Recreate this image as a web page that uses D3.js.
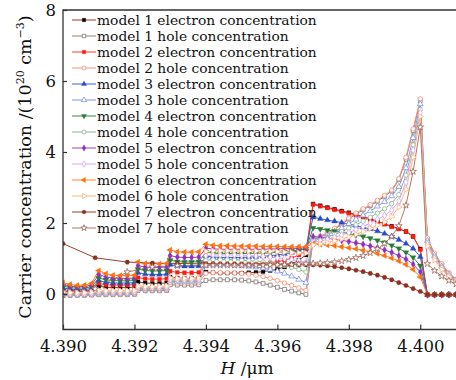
<!DOCTYPE html>
<html>
<head>
<meta charset="utf-8">
<script src="https://cdn.jsdelivr.net/npm/d3@7"></script>
<style>
html, body { margin: 0; padding: 0; background: #fff; }
svg { display: block; }
svg text { font-family: "DejaVu Serif", serif; }
</style>
</head>
<body>
<svg id="chart" width="456" height="380"></svg>
<script>
/* Mesh positions (um) used by models 1-6: seven layers */
const xLayered = [
    4.3900, 4.3902, 4.3904, 4.3906, 4.3908,
    4.3910, 4.3912, 4.3914, 4.3916, 4.3918, 4.3920,
    4.3921, 4.3923, 4.3925, 4.3927, 4.3929,
    4.3930, 4.3932, 4.3934, 4.3936, 4.3938,
    4.3940, 4.3942, 4.3944, 4.3946, 4.3948, 4.3950, 4.3952, 4.3954, 4.3956, 4.3958, 4.3960, 4.3962, 4.3964, 4.3966, 4.3968,
    4.3970, 4.3972, 4.3974, 4.3976, 4.3978, 4.3980, 4.3982, 4.3984, 4.3986, 4.3988, 4.3990, 4.3992, 4.3994, 4.3996, 4.3998, 4.4000,
    4.4002, 4.4004, 4.4006, 4.4008, 4.4010
];
/* Model 7 uses a coarser mesh on the left */
const xModel7 = [
    4.3900, 4.3909, 4.3918, 4.3925, 4.3932, 4.3939,
    4.3940, 4.3942, 4.3944, 4.3946, 4.3948, 4.3950, 4.3952, 4.3954, 4.3956, 4.3958, 4.3960, 4.3962, 4.3964, 4.3966, 4.3968,
    4.3970, 4.3972, 4.3974, 4.3976, 4.3978, 4.3980, 4.3982, 4.3984, 4.3986, 4.3988, 4.3990, 4.3992, 4.3994, 4.3996, 4.3998, 4.4000,
    4.4002, 4.4004, 4.4006, 4.4008, 4.4010
];

/* Carrier concentrations, 10^20 cm^-3 */
const m1Electron = [
    0.08, 0.06, 0.05, 0.05, 0.07,
    0.22, 0.19, 0.18, 0.18, 0.18, 0.19,
    0.34, 0.31, 0.30, 0.30, 0.31,
    0.48, 0.45, 0.44, 0.44, 0.45,
    0.62, 0.60, 0.59, 0.59, 0.59, 0.59, 0.60, 0.61, 0.63, 0.66, 0.70, 0.76, 0.84, 0.95, 1.10,
    2.54, 2.49, 2.44, 2.39, 2.34, 2.29, 2.24, 2.18, 2.12, 2.05, 1.98, 1.91, 1.84, 1.76, 1.62, 1.27,
    -0.02, -0.02, -0.02, -0.02, -0.02
];
const m1Hole = [
    -0.03, -0.04, -0.04, -0.04, -0.03,
    -0.02, -0.02, -0.02, -0.02, -0.02, -0.01,
    0.10, 0.09, 0.09, 0.09, 0.10,
    0.26, 0.25, 0.25, 0.25, 0.26,
    0.38, 0.40, 0.40, 0.40, 0.40, 0.39, 0.37, 0.34, 0.30, 0.25, 0.19, 0.13, 0.08, 0.03, -0.01,
    1.52, 1.60, 1.70, 1.82, 1.96, 2.11, 2.25, 2.37, 2.49, 2.61, 2.75, 2.90, 3.22, 3.80, 4.60, 5.45,
    1.55, 1.12, 0.82, 0.58, 0.40
];
const m2Electron = [
    0.12, 0.10, 0.09, 0.09, 0.11,
    0.30, 0.26, 0.25, 0.25, 0.25, 0.26,
    0.46, 0.43, 0.42, 0.42, 0.43,
    0.64, 0.61, 0.60, 0.60, 0.61,
    0.86, 0.84, 0.83, 0.83, 0.83, 0.83, 0.84, 0.85, 0.86, 0.88, 0.91, 0.95, 1.01, 1.10, 1.22,
    2.52, 2.47, 2.42, 2.37, 2.32, 2.27, 2.22, 2.16, 2.10, 2.03, 1.96, 1.89, 1.83, 1.76, 1.62, 1.25,
    -0.02, -0.02, -0.02, -0.02, -0.02
];
const m2Hole = [
    -0.01, -0.02, -0.02, -0.02, -0.01,
    0.01, 0.00, 0.00, 0.00, 0.00, 0.01,
    0.13, 0.12, 0.12, 0.12, 0.13,
    0.32, 0.31, 0.31, 0.31, 0.32,
    0.58, 0.60, 0.60, 0.60, 0.59, 0.58, 0.56, 0.53, 0.49, 0.44, 0.38, 0.31, 0.24, 0.17, 0.10,
    1.55, 1.63, 1.73, 1.85, 1.99, 2.14, 2.28, 2.40, 2.52, 2.64, 2.78, 2.93, 3.25, 3.85, 4.65, 5.50,
    1.58, 1.15, 0.85, 0.60, 0.42
];
const m3Electron = [
    0.17, 0.14, 0.12, 0.13, 0.15,
    0.38, 0.33, 0.31, 0.31, 0.31, 0.32,
    0.60, 0.56, 0.55, 0.55, 0.56,
    0.83, 0.79, 0.78, 0.78, 0.79,
    1.07, 1.04, 1.03, 1.03, 1.03, 1.03, 1.04, 1.05, 1.06, 1.08, 1.10, 1.13, 1.17, 1.22, 1.28,
    2.16, 2.12, 2.08, 2.05, 2.01, 1.97, 1.93, 1.88, 1.83, 1.77, 1.70, 1.62, 1.53, 1.42, 1.28, 1.05,
    -0.02, -0.02, -0.02, -0.02, -0.02
];
const m3Hole = [
    0.00, -0.01, -0.01, -0.01, 0.00,
    0.03, 0.02, 0.02, 0.02, 0.02, 0.03,
    0.16, 0.15, 0.15, 0.15, 0.16,
    0.36, 0.35, 0.35, 0.35, 0.36,
    0.80, 0.82, 0.82, 0.82, 0.81, 0.80, 0.78, 0.76, 0.73, 0.69, 0.64, 0.58, 0.50, 0.41, 0.32,
    1.55, 1.61, 1.68, 1.76, 1.86, 1.98, 2.10, 2.22, 2.34, 2.47, 2.60, 2.76, 3.02, 3.55, 4.40, 5.35,
    1.50, 1.08, 0.78, 0.55, 0.38
];
const m4Electron = [
    0.22, 0.18, 0.16, 0.17, 0.20,
    0.45, 0.40, 0.38, 0.37, 0.37, 0.38,
    0.70, 0.66, 0.65, 0.65, 0.66,
    0.95, 0.91, 0.90, 0.90, 0.91,
    1.18, 1.15, 1.14, 1.14, 1.14, 1.14, 1.14, 1.15, 1.15, 1.16, 1.17, 1.19, 1.21, 1.24, 1.27,
    1.86, 1.83, 1.80, 1.77, 1.74, 1.70, 1.66, 1.62, 1.57, 1.51, 1.45, 1.37, 1.28, 1.17, 1.03, 0.80,
    -0.02, -0.02, -0.02, -0.02, -0.02
];
const m4Hole = [
    0.02, 0.01, 0.00, 0.01, 0.02,
    0.05, 0.04, 0.04, 0.04, 0.04, 0.05,
    0.18, 0.17, 0.17, 0.17, 0.18,
    0.39, 0.38, 0.38, 0.38, 0.39,
    0.95, 0.97, 0.97, 0.97, 0.96, 0.95, 0.94, 0.92, 0.90, 0.87, 0.84, 0.80, 0.75, 0.69, 0.62,
    1.50, 1.55, 1.61, 1.68, 1.76, 1.85, 1.95, 2.05, 2.16, 2.28, 2.40, 2.55, 2.80, 3.35, 4.20, 5.20,
    1.45, 1.04, 0.75, 0.52, 0.36
];
const m5Electron = [
    0.27, 0.22, 0.20, 0.21, 0.25,
    0.55, 0.48, 0.45, 0.44, 0.44, 0.45,
    0.80, 0.76, 0.75, 0.75, 0.76,
    1.08, 1.04, 1.03, 1.03, 1.04,
    1.29, 1.27, 1.26, 1.26, 1.26, 1.26, 1.26, 1.26, 1.26, 1.27, 1.27, 1.28, 1.28, 1.29, 1.30,
    1.62, 1.60, 1.57, 1.54, 1.51, 1.48, 1.44, 1.40, 1.35, 1.30, 1.24, 1.17, 1.08, 0.98, 0.84, 0.62,
    -0.02, -0.02, -0.02, -0.02, -0.02
];
const m5Hole = [
    0.03, 0.02, 0.01, 0.02, 0.03,
    0.07, 0.06, 0.06, 0.06, 0.06, 0.07,
    0.20, 0.19, 0.19, 0.19, 0.20,
    0.42, 0.41, 0.41, 0.41, 0.42,
    1.08, 1.10, 1.10, 1.10, 1.10, 1.09, 1.08, 1.07, 1.06, 1.04, 1.02, 1.00, 0.97, 0.94, 0.90,
    1.45, 1.49, 1.54, 1.60, 1.66, 1.73, 1.81, 1.90, 2.00, 2.10, 2.21, 2.36, 2.62, 3.15, 4.05, 5.10,
    1.40, 1.00, 0.72, 0.50, 0.34
];
const m6Electron = [
    0.32, 0.27, 0.24, 0.25, 0.30,
    0.66, 0.57, 0.53, 0.52, 0.52, 0.53,
    0.90, 0.86, 0.85, 0.85, 0.86,
    1.24, 1.19, 1.18, 1.18, 1.19,
    1.40, 1.37, 1.36, 1.36, 1.35, 1.35, 1.35, 1.35, 1.34, 1.34, 1.34, 1.33, 1.33, 1.33, 1.33,
    1.42, 1.40, 1.38, 1.36, 1.33, 1.30, 1.27, 1.23, 1.19, 1.14, 1.08, 1.01, 0.93, 0.83, 0.69, 0.48,
    -0.02, -0.02, -0.02, -0.02, -0.02
];
const m6Hole = [
    0.05, 0.04, 0.03, 0.04, 0.05,
    0.10, 0.09, 0.09, 0.09, 0.09, 0.10,
    0.22, 0.21, 0.21, 0.21, 0.22,
    0.45, 0.44, 0.44, 0.44, 0.45,
    1.20, 1.22, 1.22, 1.22, 1.22, 1.22, 1.21, 1.21, 1.20, 1.20, 1.19, 1.18, 1.17, 1.16, 1.15,
    1.38, 1.41, 1.45, 1.50, 1.55, 1.61, 1.68, 1.76, 1.85, 1.94, 2.03, 2.18, 2.45, 2.95, 3.85, 5.00,
    1.35, 0.96, 0.69, 0.48, 0.32
];
const m7Electron = [
    1.42, 1.02, 0.90, 0.87, 0.86, 0.85,
    0.85, 0.85, 0.84, 0.84, 0.84, 0.84, 0.83, 0.83, 0.83, 0.83, 0.83, 0.83, 0.83, 0.82, 0.82,
    0.82, 0.81, 0.79, 0.77, 0.74, 0.71, 0.67, 0.63, 0.58, 0.53, 0.47, 0.40, 0.32, 0.24, 0.15, 0.07,
    -0.02, -0.02, -0.02, -0.02, -0.02
];
const m7Hole = [
    -0.03, 0.15, 0.62, 0.76, 0.80, 0.81,
    0.81, 0.81, 0.81, 0.81, 0.81, 0.81, 0.81, 0.81, 0.81, 0.82, 0.82, 0.83, 0.83, 0.84, 0.85,
    0.86, 0.87, 0.88, 0.90, 0.93, 0.97, 1.02, 1.08, 1.16, 1.27, 1.42, 1.62, 1.92, 2.50, 3.45, 4.70,
    0.85, 0.66, 0.50, 0.38, 0.28
];

const xTicks = [4.390, 4.392, 4.394, 4.396, 4.398, 4.400];
const yTicks = [0, 2, 4, 6, 8];

/* Hexagon marker for model 7 electrons */
const symbolHexagon = {
    draw(context, size) {
        const r = Math.sqrt(size * 2 / (3 * Math.sqrt(3)));
        for (let i = 0; i < 6; i++) {
            const a = Math.PI / 3 * i;
            const px = r * Math.cos(a), py = r * Math.sin(a);
            if (i === 0) context.moveTo(px, py); else context.lineTo(px, py);
        }
        context.closePath();
    }
};

const series = [
    {label: 'model 1 electron concentration', xs: xLayered, ys: m1Electron, line: '#9a3a2c', mark: '#000', shape: d3.symbolSquare, rot: 0, open: false},
    {label: 'model 1 hole concentration', xs: xLayered, ys: m1Hole, line: '#a87a6a', mark: '#777', shape: d3.symbolSquare, rot: 0, open: true},
    {label: 'model 2 electron concentration', xs: xLayered, ys: m2Electron, line: '#ff3a28', mark: '#ff1a10', shape: d3.symbolSquare, rot: 0, open: false},
    {label: 'model 2 hole concentration', xs: xLayered, ys: m2Hole, line: '#ff8c72', mark: '#ff8c72', shape: d3.symbolCircle, rot: 0, open: true},
    {label: 'model 3 electron concentration', xs: xLayered, ys: m3Electron, line: '#3f5fd0', mark: '#2a4ac8', shape: d3.symbolTriangle, rot: 0, open: false},
    {label: 'model 3 hole concentration', xs: xLayered, ys: m3Hole, line: '#7f96e6', mark: '#7f96e6', shape: d3.symbolTriangle, rot: 0, open: true},
    {label: 'model 4 electron concentration', xs: xLayered, ys: m4Electron, line: '#3a8a46', mark: '#2a7a36', shape: d3.symbolTriangle, rot: 180, open: false},
    {label: 'model 4 hole concentration', xs: xLayered, ys: m4Hole, line: '#8cb88c', mark: '#8cb88c', shape: d3.symbolCircle, rot: 0, open: true},
    {label: 'model 5 electron concentration', xs: xLayered, ys: m5Electron, line: '#a040c8', mark: '#9030c0', shape: d3.symbolDiamond, rot: 0, open: false},
    {label: 'model 5 hole concentration', xs: xLayered, ys: m5Hole, line: '#d8a6f0', mark: '#d8a6f0', shape: d3.symbolDiamond, rot: 0, open: true},
    {label: 'model 6 electron concentration', xs: xLayered, ys: m6Electron, line: '#ff8228', mark: '#ff7010', shape: d3.symbolTriangle, rot: -90, open: false},
    {label: 'model 6 hole concentration', xs: xLayered, ys: m6Hole, line: '#ffb47c', mark: '#ffb47c', shape: d3.symbolTriangle, rot: 90, open: true},
    {label: 'model 7 electron concentration', xs: xModel7, ys: m7Electron, line: '#9a4032', mark: '#8a3020', shape: symbolHexagon, rot: 0, open: false},
    {label: 'model 7 hole concentration', xs: xModel7, ys: m7Hole, line: '#b07a6a', mark: '#a06a5a', shape: d3.symbolStar, rot: 0, open: true}
];

const svg = d3.select('#chart');
const margin = {left: 63, top: 10, right: 456, bottom: 329.5};

const x = d3.scaleLinear().domain([4.390, 4.401]).range([margin.left, margin.right]);
const y = d3.scaleLinear().domain([-1, 8]).range([margin.bottom, margin.top]);

svg.append('clipPath').attr('id', 'plot-clip')
    .append('rect')
    .attr('x', margin.left).attr('y', margin.top)
    .attr('width', margin.right - margin.left).attr('height', margin.bottom - margin.top);

const plot = svg.append('g').attr('clip-path', 'url(#plot-clip)');

/* Curves */
series.forEach(s => {
    const pts = s.xs.map((v, i) => [v, s.ys[i]]);
    plot.append('path')
        .attr('d', d3.line().x(d => x(d[0])).y(d => y(d[1]))(pts))
        .attr('fill', 'none')
        .attr('stroke', s.line)
        .attr('stroke-width', 1);
});

/* Markers on top of the curves */
series.forEach(s => {
    const sym = d3.symbol().type(s.shape).size(s.shape === d3.symbolStar ? 14 : 15);
    plot.append('g').selectAll('path')
        .data(s.xs.map((v, i) => [v, s.ys[i]]))
        .join('path')
        .attr('transform', d => `translate(${x(d[0])},${y(d[1])}) rotate(${s.rot})`)
        .attr('d', sym)
        .attr('fill', s.open ? '#fff' : s.mark)
        .attr('stroke', s.mark)
        .attr('stroke-width', s.open ? 0.8 : 0.3);
});

/* Axes, ticks pointing inward */
const xAxis = svg.append('g')
    .attr('transform', `translate(0,${margin.bottom})`)
    .call(d3.axisBottom(x).tickValues(xTicks).tickFormat(d3.format('.3f')).tickSizeInner(-5).tickSizeOuter(0).tickPadding(11));
const yAxis = svg.append('g')
    .attr('transform', `translate(${margin.left},0)`)
    .call(d3.axisLeft(y).tickValues(yTicks).tickSizeInner(-4).tickSizeOuter(0).tickPadding(7));

[xAxis, yAxis].forEach(g => {
    g.attr('font-family', null).attr('font-size', null);
    g.select('.domain').remove();
    g.selectAll('.tick line').attr('stroke', '#333').attr('stroke-width', 1.2);
    g.selectAll('.tick text').attr('fill', '#111').attr('font-size', 16.5);
});
xAxis.selectAll('.tick text').attr('dy', '0.71em');
yAxis.selectAll('.tick text').attr('dy', '0.36em');

/* Frame: left, top, bottom */
svg.append('path')
    .attr('d', `M${margin.right + 2},${margin.top}H${margin.left}V${margin.bottom}H${margin.right + 2}`)
    .attr('fill', 'none')
    .attr('stroke', '#333')
    .attr('stroke-width', 1.3);

/* Legend */
const legend = svg.append('g');
series.forEach((s, i) => {
    const cy = 20 + i * 16;
    legend.append('line')
        .attr('x1', 72).attr('x2', 96).attr('y1', cy).attr('y2', cy)
        .attr('stroke', s.line).attr('stroke-width', 1);
    legend.append('path')
        .attr('transform', `translate(84,${cy}) rotate(${s.rot})`)
        .attr('d', d3.symbol().type(s.shape).size(12))
        .attr('fill', s.open ? '#fff' : s.mark)
        .attr('stroke', s.mark)
        .attr('stroke-width', s.open ? 0.8 : 0.3);
    legend.append('text')
        .attr('x', 97).attr('y', cy + 5)
        .attr('font-size', 13.8)
        .attr('fill', '#111')
        .text(s.label);
});

/* Axis titles */
const yTitle = svg.append('text')
    .attr('transform', 'translate(31,167) rotate(-90)')
    .attr('text-anchor', 'middle')
    .attr('font-size', 17.5)
    .attr('fill', '#111');
yTitle.append('tspan').text('Carrier concentration /(10');
yTitle.append('tspan').attr('dy', -7).attr('font-size', 11).text('20');
yTitle.append('tspan').attr('dy', 7).text(' cm');
yTitle.append('tspan').attr('dy', -7).attr('font-size', 11).text('\u22123');
yTitle.append('tspan').attr('dy', 7).text(')');

const xTitle = svg.append('text')
    .attr('x', 247).attr('y', 374)
    .attr('text-anchor', 'middle')
    .attr('font-size', 17)
    .attr('fill', '#111');
xTitle.append('tspan').attr('font-style', 'italic').text('H');
xTitle.append('tspan').text(' /\u03bcm');
</script>
</body>
</html>
